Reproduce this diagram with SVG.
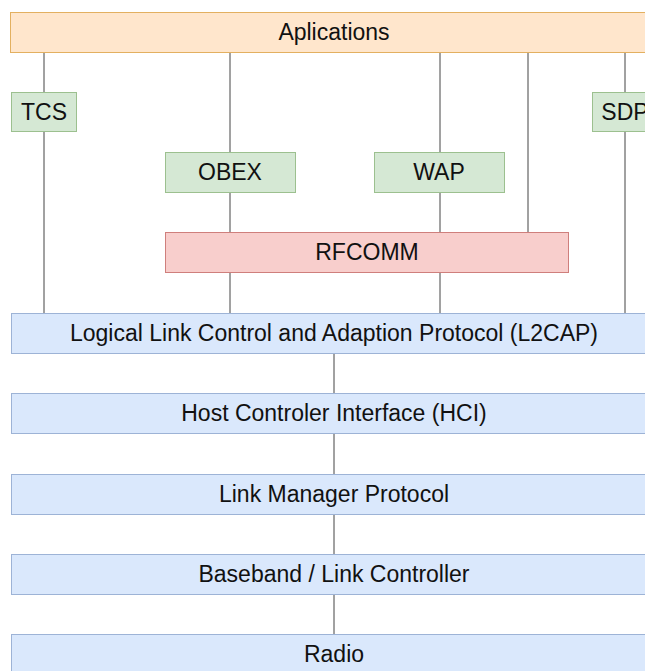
<svg xmlns="http://www.w3.org/2000/svg" width="645" height="671" viewBox="0 0 645 671">
<style>
.t{font-family:"Liberation Sans",Arial,Helvetica,sans-serif;font-size:23px;fill:#111;text-anchor:middle;dominant-baseline:central}
.app{fill:#ffe6cc;stroke:#e3b060;stroke-width:1}
.g{fill:#d5e8d4;stroke:#9cc08f;stroke-width:1}
.r{fill:#f8cecc;stroke:#cf7f7c;stroke-width:1}
.b{fill:#dae8fc;stroke:#9db3d6;stroke-width:1}
.c{stroke:#444;stroke-width:1;fill:none}
</style>
<rect width="645" height="671" fill="#fff"/>
<g id="connectors">
<line class="c" x1="44" y1="52" x2="44" y2="313"/>
<line class="c" x1="230" y1="52" x2="230" y2="313"/>
<line class="c" x1="440" y1="52" x2="440" y2="313"/>
<line class="c" x1="528" y1="52" x2="528" y2="232"/>
<line class="c" x1="625" y1="52" x2="625" y2="313"/>
<line class="c" x1="334" y1="353" x2="334" y2="634"/>
</g>
<g id="applications"><rect class="app" x="10.5" y="12.5" width="650" height="40"/><text class="t" x="334" y="32">Aplications</text></g>
<g id="tcs"><rect class="g" x="11.5" y="92.5" width="65" height="39"/><text class="t" x="44" y="112">TCS</text></g>
<g id="sdp"><rect class="g" x="592.5" y="92.5" width="65" height="39"/><text class="t" x="625" y="112">SDP</text></g>
<g id="obex"><rect class="g" x="165.5" y="152.5" width="130" height="40"/><text class="t" x="230" y="172">OBEX</text></g>
<g id="wap"><rect class="g" x="374.5" y="152.5" width="130" height="40"/><text class="t" x="439" y="172">WAP</text></g>
<g id="rfcomm"><rect class="r" x="165.5" y="232.5" width="403" height="40"/><text class="t" x="367" y="252">RFCOMM</text></g>
<g id="l2cap"><rect class="b" x="11.5" y="313.5" width="650" height="40"/><text class="t" x="334" y="333">Logical Link Control and Adaption Protocol (L2CAP)</text></g>
<g id="hci"><rect class="b" x="11.5" y="393.5" width="650" height="40"/><text class="t" x="334" y="413">Host Controler Interface (HCI)</text></g>
<g id="lmp"><rect class="b" x="11.5" y="474.5" width="650" height="40"/><text class="t" x="334" y="494">Link Manager Protocol</text></g>
<g id="baseband"><rect class="b" x="11.5" y="554.5" width="650" height="40"/><text class="t" x="334" y="574">Baseband / Link Controller</text></g>
<g id="radio"><rect class="b" x="11.5" y="634.5" width="650" height="40"/><text class="t" x="334" y="654">Radio</text></g>
</svg>
